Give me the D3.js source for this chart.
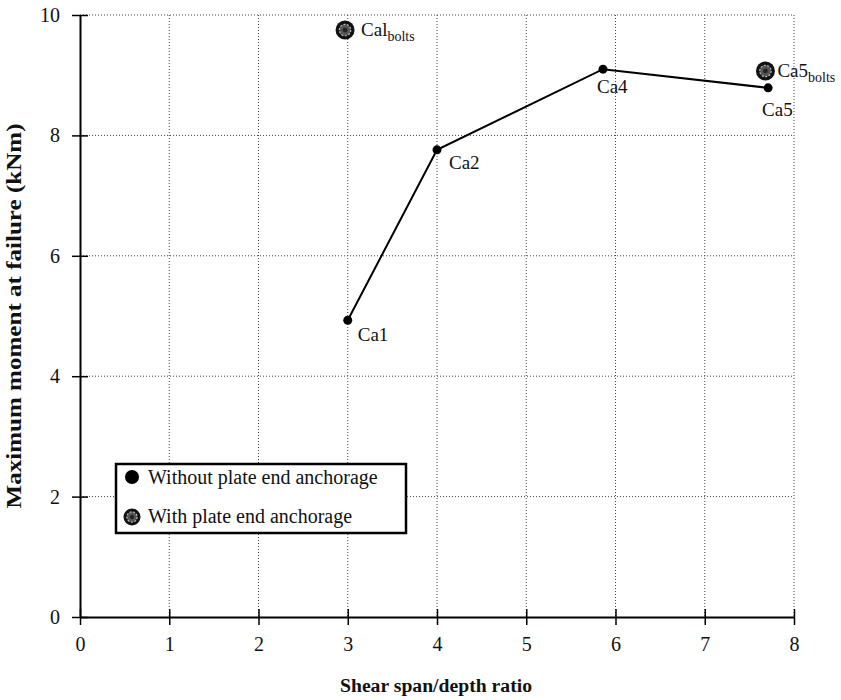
<!DOCTYPE html>
<html>
<head>
<meta charset="utf-8">
<script src="https://cdn.jsdelivr.net/npm/d3@7"></script>
<style>
  body { margin: 0; background: #fff; }
  svg { display: block; }
  text { font-family: "Liberation Serif", "Times New Roman", serif; fill: #111; }
</style>
</head>
<body>
<svg id="chart" width="841" height="700"></svg>
<script>
// Specimens without plate end anchorage (joined by a line)
const plainNames = ["Ca1", "Ca2", "Ca4", "Ca5"];
const plainRatio = [3.0, 4.0, 5.86, 7.71];
const plainMoment = [4.93, 7.76, 9.1, 8.79];

// Specimens with plate end anchorage (bolted)
const boltedNames = ["Cal", "Ca5"];
const boltedRatio = [2.97, 7.68];
const boltedMoment = [9.75, 9.07];

const xTicks = [0, 1, 2, 3, 4, 5, 6, 7, 8];
const yTicks = [0, 2, 4, 6, 8, 10];

const svg = d3.select("#chart");
const plotLeft = 80, plotRight = 794, plotTop = 15, plotBottom = 617;

const x = d3.scaleLinear().domain([0, 8]).range([plotLeft, plotRight]);
const y = d3.scaleLinear().domain([0, 10]).range([plotBottom, plotTop]);

// dotted grid and frame
const grid = svg.append("g").attr("stroke", "#444").attr("stroke-width", 1)
  .attr("stroke-dasharray", "1,2").attr("fill", "none");
grid.selectAll("line.v").data(xTicks.slice(1)).join("line").attr("class", "v")
  .attr("x1", d => x(d)).attr("x2", d => x(d)).attr("y1", plotTop).attr("y2", plotBottom);
grid.selectAll("line.h").data(yTicks.slice(1)).join("line").attr("class", "h")
  .attr("x1", plotLeft).attr("x2", plotRight).attr("y1", d => y(d)).attr("y2", d => y(d));

// axes
const xAxis = svg.append("g").attr("transform", `translate(0,${plotBottom})`)
  .call(d3.axisBottom(x).tickValues(xTicks).tickSize(0).tickPadding(20).tickFormat(d3.format("d")));
const yAxis = svg.append("g").attr("transform", `translate(${plotLeft},0)`)
  .call(d3.axisLeft(y).tickValues(yTicks).tickSize(0).tickPadding(20).tickFormat(d3.format("d")));
[xAxis, yAxis].forEach(a => {
  a.select(".domain").attr("stroke", "#000").attr("stroke-width", 2);
  a.selectAll("text").style("font-family", "Liberation Serif, serif").style("font-size", "20px").attr("fill", "#111");
});
xAxis.selectAll(".tick").append("line").attr("y1", -8).attr("y2", 8).attr("stroke", "#000").attr("stroke-width", 1.5);
yAxis.selectAll(".tick").append("line").attr("x1", -8).attr("x2", 8).attr("stroke", "#000").attr("stroke-width", 1.5);

// axis titles
svg.append("text").attr("x", 436).attr("y", 692)
  .attr("text-anchor", "middle").style("font-size", "18.5px").style("font-weight", "bold")
  .attr("textLength", 192).attr("lengthAdjust", "spacingAndGlyphs")
  .text("Shear span/depth ratio");
svg.append("text").attr("transform", "translate(21,316) rotate(-90)")
  .attr("text-anchor", "middle").style("font-size", "21px").style("font-weight", "bold")
  .attr("textLength", 385).attr("lengthAdjust", "spacingAndGlyphs")
  .text("Maximum moment at failure (kNm)");

// connecting line
const pts = plainRatio.map((r, i) => [r, plainMoment[i]]);
svg.append("path").datum(pts)
  .attr("d", d3.line().x(d => x(d[0])).y(d => y(d[1])))
  .attr("fill", "none").attr("stroke", "#000").attr("stroke-width", 2);

// bolted marker: dark disc with a lighter hatched core
function boltMarker(g, cx, cy, r) {
  g.append("circle").attr("cx", cx).attr("cy", cy).attr("r", r).attr("fill", "#111");
  g.append("circle").attr("cx", cx).attr("cy", cy).attr("r", r * 0.6)
    .attr("fill", "#555").attr("stroke", "#bbb").attr("stroke-width", 1.2).attr("stroke-dasharray", "2,1.5");
  g.append("circle").attr("cx", cx).attr("cy", cy).attr("r", r * 0.25).attr("fill", "#222");
}

plainRatio.forEach((r, i) => {
  svg.append("circle").attr("cx", x(r)).attr("cy", y(plainMoment[i])).attr("r", 4.5).attr("fill", "#000");
});
boltedRatio.forEach((r, i) => boltMarker(svg, x(r), y(boltedMoment[i]), 9.5));

// point labels
const plainOffsets = [[10, 21], [12, 19], [-6, 24], [-6, 28]];
plainNames.forEach((n, i) => {
  svg.append("text").attr("x", x(plainRatio[i]) + plainOffsets[i][0]).attr("y", y(plainMoment[i]) + plainOffsets[i][1])
    .style("font-size", "19px").text(n);
});
const boltOffsets = [[16, 6], [12, 6]];
boltedNames.forEach((n, i) => {
  const t = svg.append("text").attr("x", x(boltedRatio[i]) + boltOffsets[i][0]).attr("y", y(boltedMoment[i]) + boltOffsets[i][1])
    .style("font-size", "19px");
  t.append("tspan").text(n);
  t.append("tspan").attr("dy", 5).style("font-size", "14px").text("bolts");
});

// legend
const lg = svg.append("g");
lg.append("rect").attr("x", 116).attr("y", 464).attr("width", 290).attr("height", 69)
  .attr("fill", "#fff").attr("stroke", "#000").attr("stroke-width", 2.5);
lg.append("circle").attr("cx", 132).attr("cy", 477).attr("r", 7).attr("fill", "#000");
lg.append("text").attr("x", 148).attr("y", 484).style("font-size", "20px").text("Without plate end anchorage");
boltMarker(lg, 132, 517, 8.5);
lg.append("text").attr("x", 148).attr("y", 523).style("font-size", "20px").text("With plate end anchorage");
</script>
</body>
</html>
